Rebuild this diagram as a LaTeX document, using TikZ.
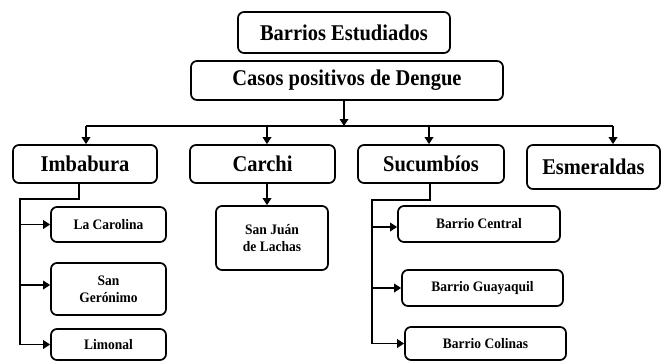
\documentclass[tikz,border=0pt]{standalone}
\usepackage{fontspec}
\setmainfont{Liberation Serif}
\newfontfamily\bigfont[FakeStretch=0.91]{Liberation Serif}
\newfontfamily\smallfont[FakeStretch=0.93]{Liberation Serif}
\usetikzlibrary{arrows.meta}
\tikzset{
  box/.style={draw=black, line width=1.7pt, rounded corners=6pt, fill=white, align=center, inner sep=0pt},
  bigbox/.style={box, font=\bigfont\fontsize{22.5}{25}\selectfont\bfseries},
  smallbox/.style={box, font=\smallfont\fontsize{14.5}{17}\selectfont\bfseries},
  conn/.style={line width=1.7pt, draw=black},
  arr/.style={conn, -{Triangle[length=7pt,width=8.5pt]}}
}
\begin{document}
\begin{tikzpicture}[x=1pt,y=-1pt]
\useasboundingbox (0,0) rectangle (665,362);
% top nodes
\node[bigbox, minimum width=212pt, minimum height=41pt] (barrios) at (344,32.5) {Barrios Estudiados};
\node[bigbox, minimum width=312pt, minimum height=39pt] (casos) at (347,80.5) {Casos positivos de Dengue};
% province nodes
\node[bigbox, minimum width=144pt, minimum height=38pt] (imbabura) at (85,164) {Imbabura};
\node[bigbox, minimum width=145pt, minimum height=38pt] (carchi) at (262.5,164) {Carchi};
\node[bigbox, minimum width=146pt, minimum height=38pt] (sucumbios) at (431,164) {Sucumbíos};
\node[bigbox, minimum width=133pt, minimum height=44pt] (esmeraldas) at (593.5,167) {Esmeraldas};
% barrio nodes
\node[smallbox, minimum width=115pt, minimum height=35pt] (lacarolina) at (108.5,224.5) {La Carolina};
\node[smallbox, minimum width=115pt, minimum height=52pt] (sangeronimo) at (108.5,289) {San\\Gerónimo};
\node[smallbox, minimum width=115pt, minimum height=31pt] (limonal) at (108.5,344.5) {Limonal};
\node[smallbox, minimum width=112pt, minimum height=64pt] (sanjuan) at (272,238) {San Juán\\de Lachas};
\node[smallbox, minimum width=162pt, minimum height=36pt] (central) at (479,224) {Barrio Central};
\node[smallbox, minimum width=161pt, minimum height=36pt] (guayaquil) at (482.5,288) {Barrio Guayaquil};
\node[smallbox, minimum width=161pt, minimum height=33pt] (colinas) at (485.5,343.5) {Barrio Colinas};
% coordinates of the distribution line
\coordinate (hub) at (344,126);
\coordinate (h1) at (86,126);
\coordinate (h2) at (267,126);
\coordinate (h3) at (429,126);
\coordinate (h4) at (613,126);
\draw[arr] (casos.south -| hub) -- (hub);
\draw[conn] (h1) -- (h4);
\draw[arr] (h1) -- (h1 |- imbabura.north);
\draw[arr] (h2) -- (h2 |- carchi.north);
\draw[arr] (h3) -- (h3 |- sucumbios.north);
\draw[arr] (h4) -- (h4 |- esmeraldas.north);
% Imbabura branch
\coordinate (ib) at (79,199);
\coordinate (ispine) at (20,199);
\draw[conn] (imbabura.south -| ib) -- (ib) -- (ispine) -- (ispine |- limonal.west);
\draw[arr] (ispine |- lacarolina.west) -- (lacarolina.west);
\draw[arr] (20,285) -- (sangeronimo.west |- 0,285);
\draw[arr] (ispine |- limonal.west) -- (limonal.west);
% Carchi branch
\draw[arr] (carchi.south -| h2) -- (h2 |- sanjuan.north);
% Sucumbios branch
\coordinate (sb) at (430,200);
\coordinate (sspine) at (372,200);
\draw[conn] (sucumbios.south -| sb) -- (sb) -- (sspine) -- (sspine |- colinas.west);
\draw[arr] (372,227) -- (central.west |- 0,227);
\draw[arr] (sspine |- guayaquil.west) -- (guayaquil.west);
\draw[arr] (sspine |- colinas.west) -- (colinas.west);
\end{tikzpicture}
\end{document}
